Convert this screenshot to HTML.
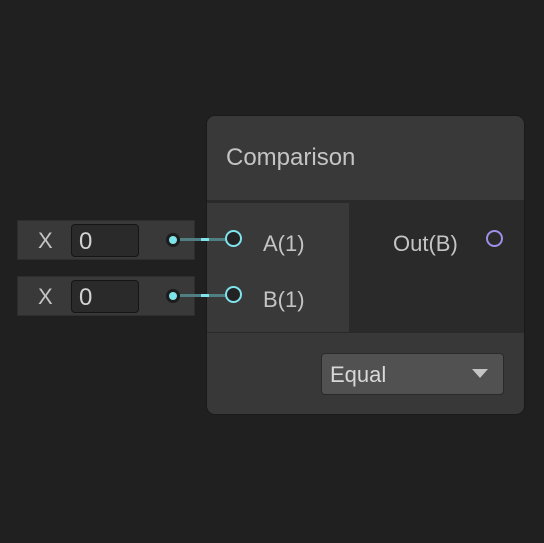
<!DOCTYPE html>
<html><head><style>
body{margin:0;width:544px;height:543px;background:#202020;position:relative;overflow:hidden;font-family:"Liberation Sans",sans-serif;color:#c4c4c4}
div{position:absolute;box-sizing:border-box}
.w{left:17px;width:178px;height:40px;background:#393939;border:1px solid #2e2e2e}
.w .x{left:20px;top:7px;font-size:22px}
.w .f{left:53px;top:3px;width:68px;height:33px;background:#2a2a2a;border:1px solid #151515;border-radius:4px;font-size:24px;padding:3px 7px;color:#d2d2d2}
.w .d{left:148px;top:12px;width:14px;height:14px;border-radius:50%;background:#1c1c1c}
.w .d::after{content:"";position:absolute;left:3px;top:3px;width:8px;height:8px;border-radius:50%;background:#7fe3ec}
.ln{left:180px;height:3px;width:46px;background:#4f7f83;z-index:5}
.ln::after{content:"";position:absolute;left:21px;top:0;width:8px;height:3px;background:#7fe3ec}
.p{width:17px;height:17px;border-radius:50%;border:2px solid #7fe3ec;background:#232323;z-index:6}
.t{font-size:22px;white-space:nowrap}
</style></head><body>
<div class="w" style="top:220px"><div class="x">X</div><div class="f">0</div><div class="d"></div></div>
<div class="w" style="top:276px"><div class="x">X</div><div class="f">0</div><div class="d"></div></div>
<div style="left:206px;top:115px;width:319px;height:300px;background:#2a2a2a;border:1px solid #1a1a1a;border-radius:9px;overflow:hidden">
 <div style="left:0;top:0;width:319px;height:86px;background:#393939;border-bottom:2px solid #2a2a2a"><div class="t" style="left:19px;top:28px;font-size:24px">Comparison</div></div>
 <div style="left:0;top:87px;width:144px;height:129px;background:#393939;border-right:2px solid #2a2a2a"></div>
 <div style="left:0;top:217px;width:319px;height:83px;background:#383838"></div>
 <div class="t" style="left:56px;top:115px">A(1)</div>
 <div class="t" style="left:56px;top:171px">B(1)</div>
 <div class="t" style="left:186px;top:115px">Out(B)</div>
 <div class="p" style="left:279px;top:114px;border-color:#9e8ee8;background:#2a2a2a"></div>
 <div style="left:114px;top:237px;width:183px;height:42px;background:#515151;border:1px solid #2a2a2a;border-radius:4px"><div class="t" style="left:8px;top:8px;color:#d8d8d8">Equal</div><div style="left:150px;top:15px;width:0;height:0;border-left:8px solid transparent;border-right:8px solid transparent;border-top:9px solid #c4c4c4"></div></div>
</div>
<div class="ln" style="top:238px"></div>
<div class="ln" style="top:294px"></div>
<div class="p" style="left:225px;top:230px"></div>
<div class="p" style="left:225px;top:286px"></div>
</body></html>
